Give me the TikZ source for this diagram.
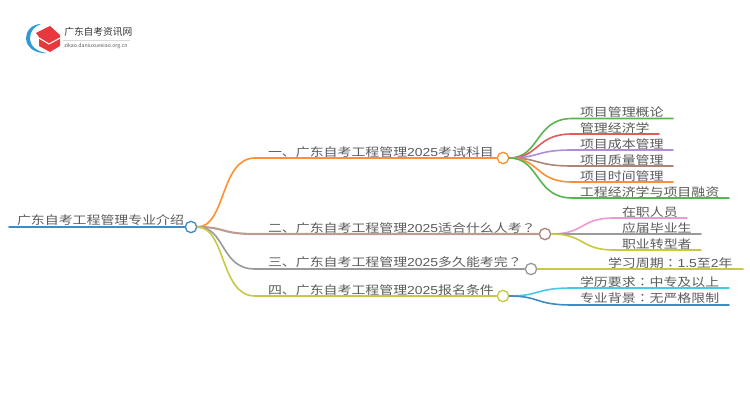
\documentclass[tikz,border=0pt]{standalone}
\usepackage{fontspec}
\setmainfont[FakeStretch=1.2]{Noto Sans CJK SC}
\newfontfamily\punctfont[FakeStretch=1.2]{Noto Sans CJK TC}
\newfontfamily\numfont[FakeStretch=1.2]{Liberation Sans}
\newfontfamily\logofont{Noto Sans CJK SC}
\newcommand{\cln}{{\punctfont ：}}
\newcommand{\qsn}{{\punctfont ？}}
\newcommand{\num}[1]{{\numfont #1}}
\definecolor{txtgray}{HTML}{5A5A5A}
\definecolor{rootblue}{HTML}{3E8CC4}
\definecolor{brorange}{HTML}{FF9030}
\definecolor{brbrown}{HTML}{AD8578}
\definecolor{brgray}{HTML}{9A9A9A}
\definecolor{bryellow}{HTML}{C9C843}
\definecolor{lfgreen}{HTML}{58B450}
\definecolor{lfred}{HTML}{E25A5A}
\definecolor{lfpurple}{HTML}{B08CD8}
\definecolor{lfpink}{HTML}{EE9AD0}
\definecolor{lfcyan}{HTML}{45CCE0}
\definecolor{logored}{HTML}{E8383D}
\definecolor{logoblue}{HTML}{2E9BD6}
\tikzset{
  lbl/.style={anchor=base west,inner sep=0pt,outer sep=0pt,yshift=0.2pt,text=txtgray,font=\fontsize{8.7}{8.7}\selectfont},
  endpt/.style={circle,draw,fill=white,line width=1pt,minimum width=8.5pt,minimum height=7pt,inner sep=0pt},
  wire/.style={line width=1.2pt,line cap=round},
}
\begin{document}
\begin{tikzpicture}[x=0.75pt,y=-0.75pt]
\useasboundingbox (0,0) rectangle (750,410);

% logo
\fill[logoblue] (41,24) .. controls (32,24) and (26,31) .. (26,38) .. controls (26,47) and (35,54) .. (47,53) .. controls (38,52) and (30,47) .. (30,38) .. controls (30,31) and (35,26) .. (41,24);
\fill[logored] (36,33) -- (50,26) -- (60,35) -- (60,46) -- (50,52) -- (39,46) -- (39,37) -- cycle;
\draw[white,line width=0.8pt] (39,38) -- (49,44) -- (60,38);
\node[anchor=west,inner sep=0pt,font=\logofont\fontsize{7.3}{7.3}\selectfont,text=black!80] (logotitle) at (64,32) {广东自考资讯网};
\node[anchor=west,inner sep=0pt,font=\logofont\fontsize{3.9}{3.9}\selectfont,text=black!65] (logourl) at (64,46.5) {zikao.daniuxuexiao.org.cn};
\draw[black!15,line width=0.3pt] (63,40) -- (130,40);

% end points
\node[endpt,draw=rootblue] (root) at (191,227) {};
\node[endpt,draw=brorange] (one) at (503,158) {};
\node[endpt,draw=brbrown] (two) at (545,234) {};
\node[endpt,draw=brgray] (three) at (531,269) {};
\node[endpt,draw=bryellow] (four) at (503,296) {};

% free ends
\coordinate (rootend) at (9,227);
\coordinate (onea) at (255,158);
\coordinate (twoa) at (255,234);
\coordinate (threea) at (255,269);
\coordinate (foura) at (255,296);

\node[lbl] (roottxt) at (17,225) {广东自考工程管理专业介绍};
\node[lbl] (onetxt) at (268,157) {一、广东自考工程管理\num{2025}考试科目};
\node[lbl] (twotxt) at (268,233) {二、广东自考工程管理\num{2025}适合什么人考\qsn};
\node[lbl] (threetxt) at (268,267) {三、广东自考工程管理\num{2025}多久能考完\qsn};
\node[lbl] (fourtxt) at (268,295) {四、广东自考工程管理\num{2025}报名条件};

\node[lbl] (txta) at (580,117) {项目管理概论};
\node[lbl] (txtb) at (580,133) {管理经济学};
\node[lbl] (txtc) at (580,149) {项目成本管理};
\node[lbl] (txtd) at (580,165) {项目质量管理};
\node[lbl] (txte) at (580,181) {项目时间管理};
\node[lbl] (txtf) at (580,197) {工程经济学与项目融资};
\node[lbl] (txtg) at (622,217) {在职人员};
\node[lbl] (txth) at (622,233) {应届毕业生};
\node[lbl] (txti) at (622,249) {职业转型者};
\node[lbl] (txtj) at (608,268) {学习周期\cln\num{1.5}至\num{2}年};
\node[lbl] (txtk) at (580,287) {学历要求\cln 中专及以上};
\node[lbl] (txtl) at (580,303) {专业背景\cln 无严格限制};

% leaf ends
\coordinate (la) at (673,118.5);
\coordinate (lb) at (659,134);
\coordinate (lc) at (673,150);
\coordinate (ld) at (673,166);
\coordinate (le) at (673,182);
\coordinate (lf) at (729,198);
\coordinate (lg) at (687,218);
\coordinate (lh) at (701,234);
\coordinate (li) at (701,250);
\coordinate (lj) at (743,269);
\coordinate (lk) at (729,288);
\coordinate (ll) at (729,305);

\draw[wire,rootblue] (rootend) -- (root);
\draw[wire,brorange] (root.east) .. controls (226,227) and (220,158) .. (onea) -- (one);
\draw[wire,brbrown!80,line width=1.6pt] (root.east) .. controls (226,227) and (220,234) .. (twoa) -- (two);
\draw[wire,brgray] (root.east) .. controls (226,227) and (220,269) .. (threea) -- (three);
\draw[wire,bryellow] (root.east) .. controls (226,227) and (220,296) .. (foura) -- (four);

\draw[wire,lfgreen] (one.east) .. controls (540,158) and (535,118.5) .. (572,118.5) -- (la);
\draw[wire,lfred] (one.east) .. controls (540,158) and (535,134) .. (572,134) -- (lb);
\draw[wire,lfpurple] (one.east) .. controls (540,158) and (535,150) .. (572,150) -- (lc);
\draw[wire,brbrown] (one.east) .. controls (540,158) and (535,166) .. (572,166) -- (ld);
\draw[wire,brorange] (one.east) .. controls (540,158) and (535,182) .. (572,182) -- (le);
\draw[wire,lfgreen] (one.east) .. controls (540,158) and (535,198) .. (572,198) -- (lf);

\draw[wire,lfpink] (two.east) .. controls (585,234) and (580,218) .. (614,218) -- (lg);
\draw[wire,brgray] (two.east) .. controls (585,234) and (580,234) .. (614,234) -- (lh);
\draw[wire,bryellow] (two.east) .. controls (585,234) and (580,250) .. (614,250) -- (li);

\draw[wire,bryellow] (three.east) -- (lj);

\draw[wire,lfcyan] (four.east) .. controls (540,296) and (535,288) .. (572,288) -- (lk);
\draw[wire,rootblue] (four.east) .. controls (540,296) and (535,305) .. (572,305) -- (ll);
\end{tikzpicture}
\end{document}
